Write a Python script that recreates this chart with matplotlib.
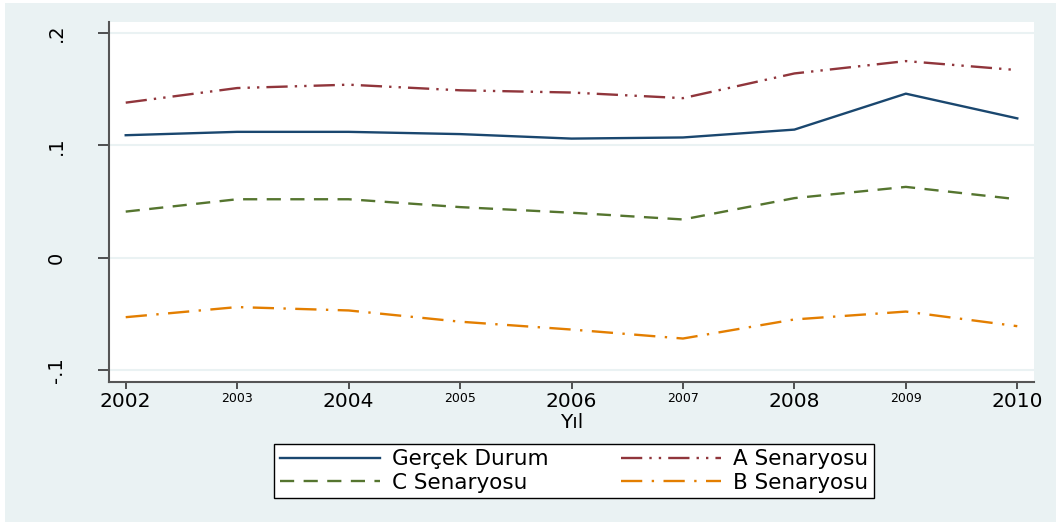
import matplotlib.pyplot as plt
from matplotlib.patches import Rectangle

# Data
years = [2002, 2003, 2004, 2005, 2006, 2007, 2008, 2009, 2010]
gercek = [0.109, 0.112, 0.112, 0.110, 0.106, 0.107, 0.114, 0.146, 0.124]
senaryo_a = [0.138, 0.151, 0.154, 0.149, 0.147, 0.142, 0.164, 0.175, 0.167]
senaryo_c = [0.041, 0.052, 0.052, 0.045, 0.040, 0.034, 0.053, 0.063, 0.052]
senaryo_b = [-0.053, -0.044, -0.047, -0.057, -0.064, -0.072, -0.055, -0.048, -0.061]

y_ticks = [-0.1, 0, 0.1, 0.2]
y_labels = ['-.1', '0', '.1', '.2']

plt.rcParams['font.family'] = ['DejaVu Sans']

bg = '#eaf2f3'
W, H = 1056, 522

fig = plt.figure(figsize=(W / 100, H / 100), dpi=100, facecolor='white')
# light Stata-like background, thin white margin on top/left
fig.patches.append(Rectangle((5 / W, 0), 1 - 5 / W, 1 - 3 / H, transform=fig.transFigure,
                             facecolor=bg, edgecolor='none', zorder=-10))

ax = fig.add_axes([109 / W, 1 - 382 / H, (1034 - 109) / W, (382 - 22) / H])
ax.set_facecolor('white')

ax.plot(years, gercek, color='#1a476f', lw=1.7, label='Gerçek Durum')
ax.plot(years, senaryo_c, color='#55752f', lw=1.7, linestyle=(0, (6, 4)), label='C Senaryosu')
ax.plot(years, senaryo_a, color='#90353b', lw=1.7, linestyle=(0, (9, 3, 1, 3, 1, 3)), label='A Senaryosu')
ax.plot(years, senaryo_b, color='#e37e00', lw=1.7, linestyle=(0, (9, 4, 1, 4)), label='B Senaryosu')

ax.set_xlim(2001.85, 2010.15)
ax.set_ylim(-0.1107, 0.2098)

ax.set_yticks(y_ticks)
ax.set_yticklabels(y_labels, rotation=90, va='center', fontsize=14)
ax.tick_params(axis='y', length=8, width=1.2, color='#333333', pad=23)
for t in y_ticks:
    ax.axhline(t, color=bg, lw=1.5, zorder=0.5)

ax.set_xticks(years)
ax.set_xticklabels([str(y) for y in years])
for i, lab in enumerate(ax.get_xticklabels()):
    lab.set_fontsize(14.5 if i % 2 == 0 else 9)
ax.tick_params(axis='x', length=5, width=1.2, color='#333333', pad=2)
ax.set_xlabel('Yıl', fontsize=14.5)
ax.xaxis.set_label_coords(0.5, -0.086)

for side in ['top', 'right']:
    ax.spines[side].set_visible(False)
for side in ['left', 'bottom']:
    ax.spines[side].set_color('#555555')
    ax.spines[side].set_linewidth(1.5)

leg = fig.legend(ncol=2, loc='center', bbox_to_anchor=(574 / W, 1 - 471 / H),
                 fontsize=15.5, frameon=True, fancybox=False, edgecolor='black',
                 framealpha=1, facecolor='white',
                 handlelength=4.65, columnspacing=3.4, handletextpad=0.55,
                 borderpad=0.25, labelspacing=0.15, borderaxespad=0)
leg.get_frame().set_linewidth(1.0)

fig.savefig('out.png', dpi=100, facecolor=fig.get_facecolor())
